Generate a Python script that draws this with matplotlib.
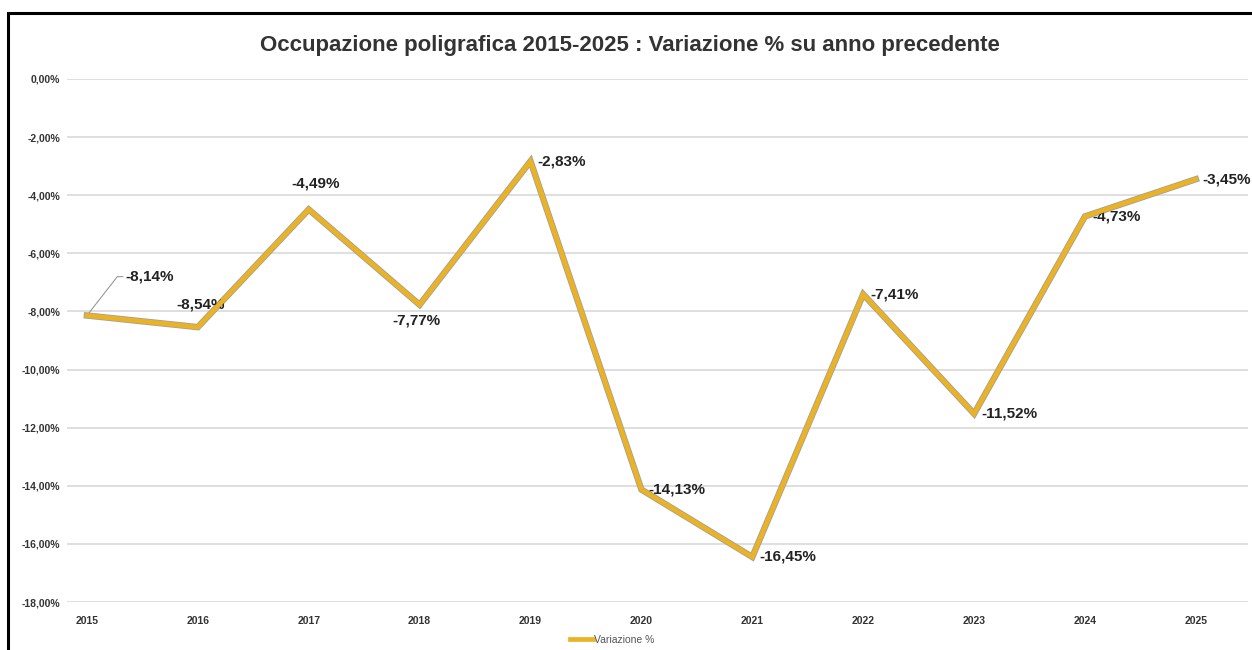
import matplotlib.pyplot as plt
from matplotlib.patches import Rectangle

plt.rcParams['font.family'] = ['Liberation Sans', 'DejaVu Sans']

years = [2015, 2016, 2017, 2018, 2019, 2020, 2021, 2022, 2023, 2024, 2025]
variazione = [-8.14, -8.54, -4.49, -7.77, -2.83, -14.13, -16.45, -7.41, -11.52, -4.73, -3.45]
yticks = [0, -2, -4, -6, -8, -10, -12, -14, -16, -18]

fig = plt.figure(figsize=(12.52, 6.5), dpi=100)
ax = fig.add_axes([0.0535, 0.0738, 0.9433, 0.8047])

ax.plot(years, variazione, color='#a0a0a0', lw=4.6, solid_joinstyle='miter', zorder=3)
ax.plot(years, variazione, color='#EBB324', lw=3.4, solid_joinstyle='miter', zorder=4, label='Variazione %')

def fmt(v):
    return ('%.2f%%' % v).replace('.', ',')

lab = dict(fontsize=11, fontweight='bold', color='#222222', textcoords='offset points')

# 2015: label with leader line
ax.annotate(fmt(variazione[0]), (years[0], variazione[0]), xytext=(28, 28), ha='left', va='center',
            arrowprops=dict(arrowstyle='-', color='#999999', lw=0.8, shrinkA=0, shrinkB=2,
                            connectionstyle='angle,angleA=0,angleB=52,rad=0'), **lab)
# 2016, 2017 above, 2018 below
ax.annotate(fmt(variazione[1]), (years[1], variazione[1]), xytext=(2, 11), ha='center', va='bottom', **lab)
ax.annotate(fmt(variazione[2]), (years[2], variazione[2]), xytext=(5, 14), ha='center', va='bottom', **lab)
ax.annotate(fmt(variazione[3]), (years[3], variazione[3]), xytext=(-2, -6), ha='center', va='top', **lab)
# the rest to the right of the point
for x, v in zip(years[4:], variazione[4:]):
    ax.annotate(fmt(v), (x, v), xytext=(5, 0), ha='left', va='center', **lab)

ax.set_ylim(-18, 0)
ax.set_xlim(2014.82, 2025.47)
ax.set_yticks(yticks)
ax.set_yticklabels([fmt(t) for t in yticks], fontsize=7.5, fontweight='bold', color='#333333')
ax.set_xticks(years)
ax.set_xticklabels([str(y) for y in years], fontsize=7.5, fontweight='bold', color='#333333')
ax.tick_params(axis='x', length=0, pad=10)
ax.tick_params(axis='y', length=0, pad=5)
ax.grid(axis='y', color='#d9d9d9', lw=1.2)
for s in ax.spines.values():
    s.set_visible(False)

fig.text(0.503, 0.93, 'Occupazione poligrafica 2015-2025 : Variazione % su anno precedente',
         ha='center', va='center', fontsize=16, fontweight='bold', color='#333333')

leg = ax.legend(loc='upper center', bbox_to_anchor=(0.462, -0.045), frameon=False, fontsize=7.5,
                handlelength=2.2, handletextpad=0.1)
for t in leg.get_texts():
    t.set_color('#555555')

fig.add_artist(Rectangle((8 / 1252, -0.1), 1.2, 1.1 - 13 / 650, transform=fig.transFigure,
                         fill=False, edgecolor='black', lw=2.2))

fig.savefig('out.png', dpi=100, facecolor='white')
